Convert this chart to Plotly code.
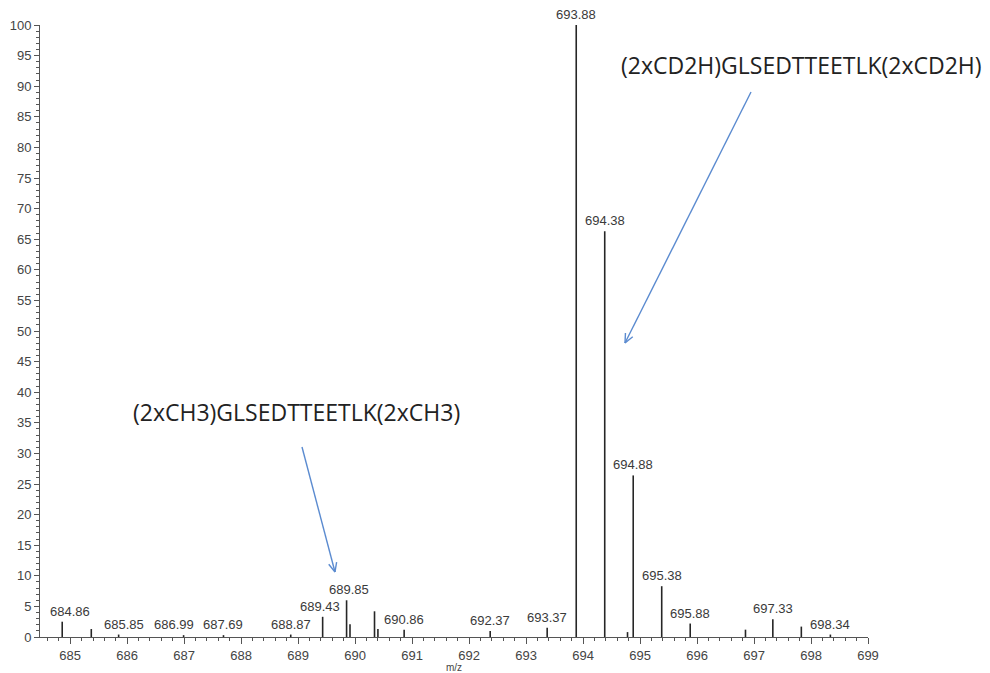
import math
import plotly.graph_objects as go

# Stick spectrum (m/z, relative abundance)
peak_mz = [684.86, 685.37, 685.85, 686.99, 687.69, 688.87, 689.43, 689.85, 689.91,
           690.34, 690.40, 690.86, 692.37, 693.37, 693.88, 694.38, 694.78, 694.88,
           695.38, 695.88, 696.85, 697.33, 697.83, 698.34]
peak_int = [2.5, 1.3, 0.4, 0.3, 0.3, 0.4, 3.3, 6.0, 2.1,
            4.2, 1.3, 1.2, 1.0, 1.5, 100.0, 66.3, 0.8, 26.4,
            8.3, 2.2, 1.2, 2.9, 1.7, 0.4]

# Labelled peaks
label_mz = [684.86, 685.85, 686.99, 687.69, 688.87, 689.43, 689.85, 690.86, 692.37,
            693.37, 693.88, 694.38, 694.88, 695.38, 695.88, 697.33, 698.34]
label_int = [2.5, 0.4, 0.3, 0.3, 0.4, 3.3, 6.0, 1.2, 1.0,
             1.5, 100.0, 66.3, 26.4, 8.3, 2.2, 2.9, 0.4]
# horizontal nudges of the labels (px), as placed by the instrument software
label_dx = [8, 5, -10, 0, 0, -3, 2, 0, 0,
            0, 0, 0, 0, 0, 0, 0, 0]

x_ticks = list(range(685, 700))
y_ticks = list(range(0, 101, 5))

pep_light = "(2xCH3)GLSEDTTEETLK(2xCH3)"
pep_heavy = "(2xCD2H)GLSEDTTEETLK(2xCD2H)"

# page body has an 8px margin; compensate so the plot lands where intended
OFF = 8
PAGE_W, PAGE_H = 990, 673
W, H = PAGE_W - OFF, PAGE_H - OFF
PL, PR, PT, PB = 40, 868, 25, 637          # plot area in page pixels
ML, MT = PL - OFF, PT - OFF
MR, MB = W - (PR - OFF), H - (PB - OFF)
XR = [684.47, 699.0]
YR = [0, 100]


def px2data(px, py):
    x = XR[0] + (px - PL) / (PR - PL) * (XR[1] - XR[0])
    y = YR[0] + (PB - py) / (PB - PT) * (YR[1] - YR[0])
    return x, y


xs, ys = [], []
for m, v in zip(peak_mz, peak_int):
    xs += [m, m, None]
    ys += [0, v, None]

fig = go.Figure()
fig.add_trace(go.Scatter(x=xs, y=ys, mode="lines",
                         line=dict(color="#262626", width=1.6),
                         hoverinfo="skip", showlegend=False))

annotations = []
for m, v, dx in zip(label_mz, label_int, label_dx):
    annotations.append(dict(x=m, y=v, text=f"{m:.2f}", showarrow=False,
                            yanchor="bottom", yshift=1, xshift=dx,
                            font=dict(family="Liberation Sans, Arial", size=13, color="#3a3a3a")))

# Peptide labels
for txt, (cx, cy) in [(pep_light, (296, 412)), (pep_heavy, (801, 65))]:
    dx, dy = px2data(cx, cy)
    annotations.append(dict(x=dx, y=dy, xref="x", yref="y",
                            text=txt, showarrow=False, xanchor="center", yanchor="middle",
                            font=dict(family="Open Sans", size=23, color="#222222")))

shapes = []
arrow_color = "#5b8bd0"
for (tx, ty), (hx, hy) in [((302, 447), (335, 572)), ((751, 92), (625, 343))]:
    x0, y0 = px2data(tx, ty)
    x1, y1 = px2data(hx, hy)
    shapes.append(dict(type="line", x0=x0, y0=y0, x1=x1, y1=y1, xref="x", yref="y",
                       line=dict(color=arrow_color, width=1.4)))
    ang = math.atan2(ty - hy, tx - hx)
    for d in (0.42, -0.42):
        ex = hx + 10 * math.cos(ang + d)
        ey = hy + 10 * math.sin(ang + d)
        a0, b0 = px2data(hx, hy)
        a1, b1 = px2data(ex, ey)
        shapes.append(dict(type="line", x0=a0, y0=b0, x1=a1, y1=b1, xref="x", yref="y",
                           line=dict(color=arrow_color, width=1.4)))

tick_font = dict(family="Liberation Sans, Arial", size=13, color="#444")
fig.update_layout(
    width=W, height=H,
    margin=dict(l=ML, r=MR, t=MT, b=MB, autoexpand=False),
    paper_bgcolor="white", plot_bgcolor="white",
    annotations=annotations, shapes=shapes,
    xaxis=dict(range=XR, tickmode="array", tickvals=x_ticks, ticktext=[str(t) for t in x_ticks],
               showgrid=False, zeroline=False, showline=True, linecolor="#555", linewidth=1,
               ticks="outside", ticklen=6, tickcolor="#555",
               minor=dict(dtick=0.2, tick0=685, ticks="outside", ticklen=3, tickcolor="#555"),
               tickfont=tick_font, automargin=False,
               title=dict(text="m/z", font=dict(family="Liberation Sans, Arial", size=10, color="#444"),
                          standoff=1)),
    yaxis=dict(range=YR, tickmode="array", tickvals=y_ticks, ticktext=[str(t) for t in y_ticks],
               showgrid=False, zeroline=False, showline=True, linecolor="#555", linewidth=1,
               ticks="outside", ticklen=5, tickcolor="#555",
               minor=dict(dtick=1, ticks="outside", ticklen=3, tickcolor="#555"),
               tickfont=tick_font, automargin=False),
)

fig.write_html("out.html")
